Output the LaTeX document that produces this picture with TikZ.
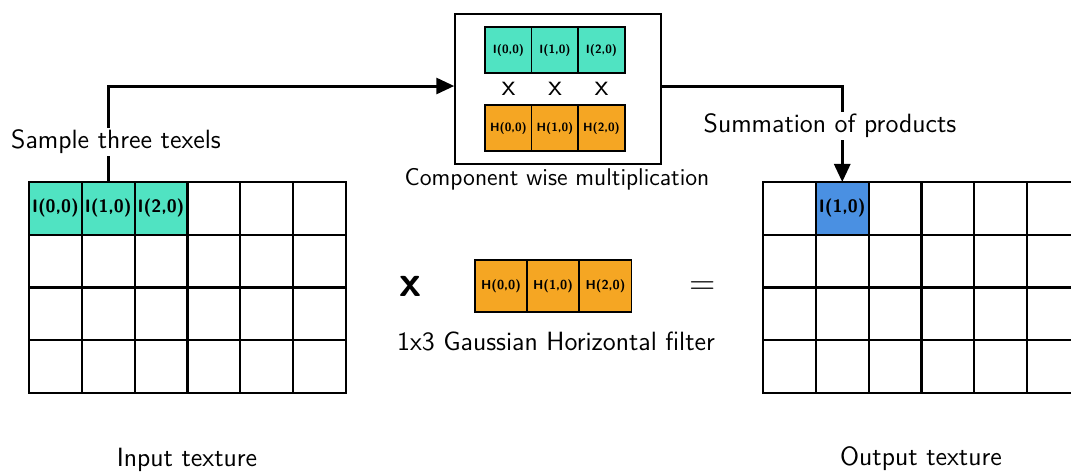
\documentclass[tikz,border=0pt]{standalone}
\usepackage{fontspec}
\usetikzlibrary{arrows.meta}
\definecolor{tcyan}{HTML}{50E3C2}
\definecolor{torange}{HTML}{F5A623}
\definecolor{tblue}{HTML}{4A90E2}
\begin{document}
\begin{tikzpicture}[x=0.5pt,y=-0.5pt,
  every node/.style={font=\sffamily},
  cell/.style={draw=black, line width=1pt, minimum width=26.4pt, minimum height=26.4pt, inner sep=0pt, outer sep=0pt, font=\sffamily\bfseries\fontsize{9}{10}\selectfont},
  smallcell/.style={draw=black, line width=0.75pt, minimum width=23.3pt, minimum height=23pt, inner sep=0pt, outer sep=0pt, font=\sffamily\bfseries\fontsize{6}{7}\selectfont},
  fcell/.style={draw=black, line width=0.75pt, minimum width=26.2pt, minimum height=26pt, inner sep=0pt, outer sep=0pt, font=\sffamily\bfseries\fontsize{6.5}{7.5}\selectfont},
  lbl/.style={font=\sffamily\fontsize{13.2}{15}\selectfont, inner sep=1pt},
  arrow/.style={line width=1.5pt, -{Triangle[length=9pt,width=8pt]}}
]
\clip (0,0) rectangle (1071,473);
\useasboundingbox (0,0) rectangle (1071,473);
% input grid
\foreach \r in {1,2,3}{\foreach \c in {0,...,5}{
  \node[cell] (i-\c-\r) at ({29+52.83*(\c+0.5)},{182+52.75*(\r+0.5)}) {};}}
\foreach \c in {3,4,5}{
  \node[cell] (i-\c-0) at ({29+52.83*(\c+0.5)},{182+52.75*0.5}) {};}
\node[cell, fill=tcyan] (i00) at ({29+52.83*0.5},{182+52.75*0.5}) {I(0,0)};
\node[cell, fill=tcyan] (i10) at ({29+52.83*1.5},{182+52.75*0.5}) {I(1,0)};
\node[cell, fill=tcyan] (i20) at ({29+52.83*2.5},{182+52.75*0.5}) {I(2,0)};
% output grid
\foreach \r in {1,2,3}{\foreach \c in {0,...,6}{
  \node[cell] (o-\c-\r) at ({763+52.83*(\c+0.5)},{182+52.75*(\r+0.5)}) {};}}
\foreach \c in {0,2,3,4,5,6}{
  \node[cell] (o-\c-0) at ({763+52.83*(\c+0.5)},{182+52.75*0.5}) {};}
\node[cell, fill=tblue] (o10) at ({763+52.83*1.5},{182+52.75*0.5}) {I(1,0)};
% multiplication box
\node[draw=black, line width=0.75pt, minimum width=103pt, minimum height=75pt, inner sep=0pt] (box) at (558,89) {};
\node[smallcell, fill=tcyan] (t0) at (508.5,50) {I(0,0)};
\node[smallcell, fill=tcyan] (t1) at (555,50) {I(1,0)};
\node[smallcell, fill=tcyan] (t2) at (601.5,50) {I(2,0)};
\node[font=\sffamily\fontsize{15}{17}\selectfont] (x0) at (508.5,89) {x};
\node[font=\sffamily\fontsize{15}{17}\selectfont] (x1) at (555,89) {x};
\node[font=\sffamily\fontsize{15}{17}\selectfont] (x2) at (601.5,89) {x};
\node[smallcell, fill=torange] (h0) at (508.5,128) {H(0,0)};
\node[smallcell, fill=torange] (h1) at (555,128) {H(1,0)};
\node[smallcell, fill=torange] (h2) at (601.5,128) {H(2,0)};
\node[font=\sffamily\fontsize{12.1}{14}\selectfont] (cwm) at (557,179) {Component wise multiplication};
% filter
\node[font=\sffamily\bfseries\fontsize{22}{24}\selectfont] (times) at (410,286) {x};
\node[fcell, fill=torange] (f0) at (501,286) {H(0,0)};
\node[fcell, fill=torange] (f1) at (553,286) {H(1,0)};
\node[fcell, fill=torange] (f2) at (605.5,286) {H(2,0)};
\node[font=\sffamily\fontsize{18}{20}\selectfont] (eq) at (703,288) {=};
\node[lbl] (flbl) at (556,341) {1x3 Gaussian Horizontal filter};
% arrows
\draw[arrow] (i10.north) |- ([yshift=1.5pt]box.west);
\node[lbl, fill=white] (sample) at (116,142) {Sample three texels};
\draw[arrow] ([yshift=1.5pt]box.east) -| (o10.north);
\node[lbl, fill=white] (sum) at (830,126) {Summation of products};
% bottom labels
\node[lbl] (inl) at (187,460) {Input texture};
\node[lbl] (outl) at (921,459) {Output texture};
\end{tikzpicture}
\end{document}
